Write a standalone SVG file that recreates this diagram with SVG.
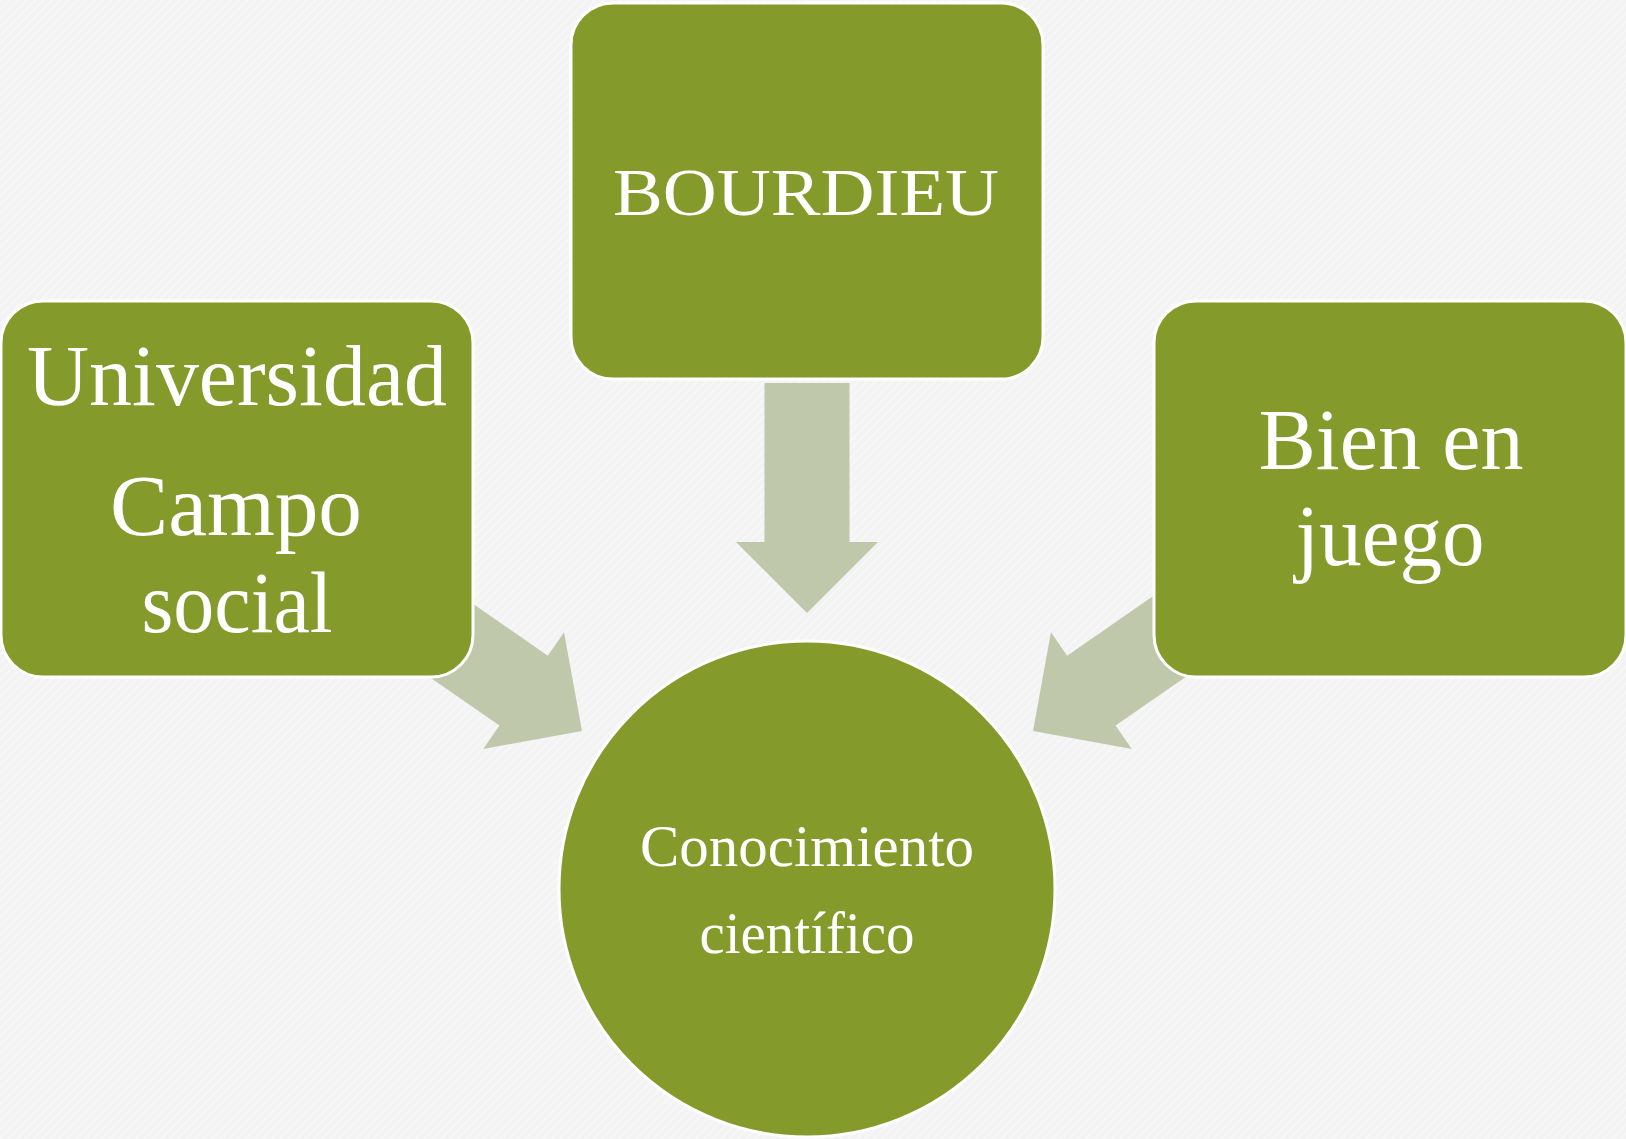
<svg xmlns="http://www.w3.org/2000/svg" width="1626" height="1139" viewBox="0 0 1626 1139">
  <style>
    .node { fill: #849a2a; stroke: #ffffff; stroke-width: 3; }
    .arrow { fill: #c0c8ac; }
    .lbl { font-family: "Liberation Serif", "Times New Roman", serif; fill: #ffffff; text-anchor: middle; }
    .big { font-size: 86px; }
    .mid { font-size: 68px; }
    .sm { font-size: 60px; }
  </style>
  <defs>
    <pattern id="tex" width="6" height="6" patternUnits="userSpaceOnUse" patternTransform="rotate(45)">
      <rect width="6" height="6" fill="#f3f3f3"/>
      <rect width="2" height="6" fill="#f7f7f7"/>
    </pattern>
    <polygon id="arr" points="0,0 -71,-71 -71,-42.5 -230,-42.5 -230,42.5 -71,42.5 -71,71"/>
  </defs>
  <rect width="1626" height="1139" fill="url(#tex)"/>

  <g id="connectors">
    <use href="#arr" class="arrow" transform="translate(807,613) rotate(90)"/>
    <use href="#arr" class="arrow" transform="translate(582,731) rotate(34.7)"/>
    <use href="#arr" class="arrow" transform="translate(1033,731) rotate(145.3)"/>
  </g>

  <g id="node-bourdieu">
    <rect class="node" x="571" y="3" width="472" height="376" rx="42"/>
    <text class="lbl mid" x="806" y="215" textLength="386" lengthAdjust="spacingAndGlyphs">BOURDIEU</text>
  </g>

  <g id="node-universidad">
    <rect class="node" x="1" y="301" width="472" height="376" rx="42"/>
    <text class="lbl big" x="237" y="405" textLength="420" lengthAdjust="spacingAndGlyphs">Universidad</text>
    <text class="lbl big" x="236" y="535" textLength="252" lengthAdjust="spacingAndGlyphs">Campo</text>
    <text class="lbl big" x="237" y="632" textLength="191" lengthAdjust="spacingAndGlyphs">social</text>
  </g>

  <g id="node-bien">
    <rect class="node" x="1154" y="301" width="472" height="376" rx="42"/>
    <text class="lbl big" x="1391" y="469" textLength="265" lengthAdjust="spacingAndGlyphs">Bien en</text>
    <text class="lbl big" x="1390" y="565" textLength="189" lengthAdjust="spacingAndGlyphs">juego</text>
  </g>

  <g id="node-conocimiento">
    <circle class="node" cx="807" cy="889" r="248"/>
    <text class="lbl sm" x="807" y="866" textLength="334" lengthAdjust="spacingAndGlyphs">Conocimiento</text>
    <text class="lbl sm" x="807" y="953" textLength="215" lengthAdjust="spacingAndGlyphs">científico</text>
  </g>
</svg>
